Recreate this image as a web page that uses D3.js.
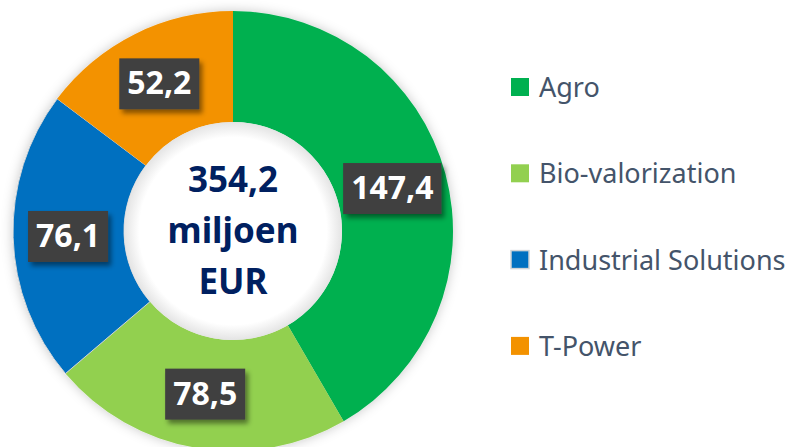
<!DOCTYPE html>
<html>
<head>
<meta charset="utf-8">
<script src="https://cdn.jsdelivr.net/npm/d3@7"></script>
<style>
    body { margin: 0; background: #fff; }
    svg { display: block; font-family: "Noto Sans", sans-serif; }
</style>
</head>
<body>
<div id="chart"></div>
<script>
const segments = ["Agro", "Bio-valorization", "Industrial Solutions", "T-Power"];
const values = [147.4, 78.5, 76.1, 52.2];
const colors = ["#00B050", "#92D050", "#0070C0", "#F39200"];
const centerLines = ["354,2", "miljoen", "EUR"];

const width = 790, height = 447;
const cx = 233, cy = 231;
const outer = 220, inner = 109;

const fmt = v => d3.format(".1f")(v).replace(".", ",");

let svg = d3.select("#chart")
    .append("svg")
    .attr("width", width)
    .attr("height", height);

let defs = svg.append("defs");

let glow = defs.append("filter")
    .attr("id", "glow")
    .attr("x", "-20%").attr("y", "-20%")
    .attr("width", "140%").attr("height", "140%");
glow.append("feDropShadow")
    .attr("dx", 0).attr("dy", 0)
    .attr("stdDeviation", 6)
    .attr("flood-color", "#000")
    .attr("flood-opacity", 0.22);

let boxShadow = defs.append("filter")
    .attr("id", "boxShadow")
    .attr("x", "-20%").attr("y", "-20%")
    .attr("width", "150%").attr("height", "160%");
boxShadow.append("feDropShadow")
    .attr("dx", 3).attr("dy", 4)
    .attr("stdDeviation", 2.5)
    .attr("flood-color", "#000")
    .attr("flood-opacity", 0.45);

let hole = defs.append("radialGradient")
    .attr("id", "hole");
hole.append("stop").attr("offset", "86%").attr("stop-color", "#ffffff");
hole.append("stop").attr("offset", "100%").attr("stop-color", "#e4e4e4");

let pie = d3.pie()
    .sort(null)
    .value(function (d) {
        return d.value;
    });

let data = segments.map(function (s, i) {
    return {name: s, value: values[i], color: colors[i]};
});

let arc = d3.arc()
    .innerRadius(inner)
    .outerRadius(outer);

let labelArc = d3.arc()
    .innerRadius(165)
    .outerRadius(165);

let g = svg.append("g")
    .attr("transform", "translate(" + cx + "," + cy + ")");

let ring = g.append("g")
    .attr("filter", "url(#glow)");

ring.selectAll("path")
    .data(pie(data))
    .enter()
    .append("path")
    .attr("d", arc)
    .attr("fill", function (d) {
        return d.data.color;
    })
    .attr("stroke", function (d, i) {
        return i === 2 ? "#cfd3d6" : "none";
    })
    .attr("stroke-width", 1);

g.append("circle")
    .attr("r", inner)
    .attr("fill", "url(#hole)");

// value labels
let labels = g.selectAll(".val")
    .data(pie(data))
    .enter()
    .append("g")
    .attr("class", "val")
    .attr("transform", function (d) {
        let c = labelArc.centroid(d);
        return "translate(" + c[0] + "," + c[1] + ")";
    });

labels.append("rect")
    .attr("fill", "#404040")
    .attr("filter", "url(#boxShadow)");

labels.append("text")
    .attr("text-anchor", "middle")
    .attr("y", 11)
    .attr("fill", "#fff")
    .attr("font-weight", 700)
    .attr("font-size", 32)
    .text(function (d) {
        return fmt(d.data.value);
    });

labels.each(function () {
    let grp = d3.select(this);
    let w = grp.select("text").node().getBBox().width + 16;
    grp.select("rect")
        .attr("x", -w / 2)
        .attr("y", -25)
        .attr("width", w)
        .attr("height", 51);
});

// centre text
g.selectAll(".centre")
    .data(centerLines)
    .enter()
    .append("text")
    .attr("class", "centre")
    .attr("text-anchor", "middle")
    .attr("x", 0)
    .attr("y", function (d, i) {
        return -39 + i * 51;
    })
    .attr("fill", "#002060")
    .attr("font-weight", 700)
    .attr("font-size", 35)
    .text(function (d) {
        return d;
    });

// legend
let legend = svg.append("g")
    .attr("transform", "translate(511, 78)");

let items = legend.selectAll(".item")
    .data(data)
    .enter()
    .append("g")
    .attr("class", "item")
    .attr("transform", function (d, i) {
        return "translate(0," + (i * 86.3) + ")";
    });

items.append("rect")
    .attr("width", 18)
    .attr("height", 18)
    .attr("fill", function (d) {
        return d.color;
    })
    .attr("stroke", function (d, i) {
        return i === 2 ? "#cfd3d6" : "none";
    })
    .attr("stroke-width", 1.5);

items.append("text")
    .attr("x", 28)
    .attr("y", 19)
    .attr("fill", "#44546A")
    .attr("font-size", 27)
    .text(function (d) {
        return d.name;
    });
</script>
</body>
</html>
